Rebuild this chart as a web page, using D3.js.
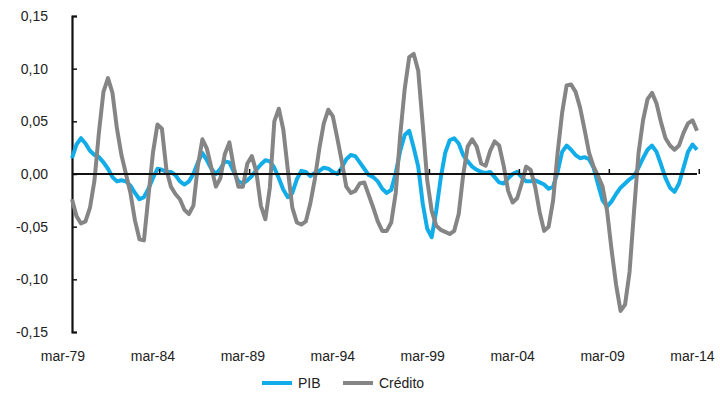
<!DOCTYPE html>
<html>
<head>
<meta charset="utf-8">
<script src="https://cdn.jsdelivr.net/npm/d3@7"></script>
<style>
	body { margin: 0; background: #fff; }
	text { font-family: "Liberation Sans", Arial, sans-serif; fill: #222; }
</style>
</head>
<body>
<div id="chart"></div>
<script>

//data (quarterly, sep-79 .. jun-14)
const pib = [
	0.015, 0.028, 0.034, 0.029, 0.022, 0.018, 0.016, 0.011, 0.005, -0.003,
	-0.007, -0.006, -0.007, -0.011, -0.018, -0.024, -0.022, -0.014, -0.004, 0.005,
	0.004, 0.002, 0.002, -0.001, -0.007, -0.010, -0.007, 0.000, 0.011, 0.020,
	0.013, 0.005, 0.000, 0.005, 0.012, 0.011, 0.002, -0.007, -0.009, -0.006,
	-0.002, 0.004, 0.009, 0.013, 0.012, 0.006, -0.004, -0.015, -0.022, -0.018,
	-0.005, 0.003, 0.002, -0.002, 0.001, 0.003, 0.006, 0.005, 0.002, 0.000,
	0.006, 0.014, 0.018, 0.017, 0.011, 0.005, -0.001, -0.003, -0.007, -0.014,
	-0.018, -0.015, 0.001, 0.022, 0.037, 0.041, 0.025, 0.007, -0.028, -0.052,
	-0.060, -0.035, -0.004, 0.020, 0.032, 0.034, 0.029, 0.018, 0.012, 0.007,
	0.004, 0.002, 0.001, 0.002, -0.003, -0.008, -0.009, -0.004, 0.000, 0.002,
	-0.003, -0.007, -0.007, -0.006, -0.008, -0.010, -0.014, -0.012, 0.002, 0.021,
	0.027, 0.023, 0.018, 0.015, 0.016, 0.014, 0.006, -0.010, -0.025, -0.031,
	-0.026, -0.019, -0.013, -0.009, -0.005, -0.002, 0.006, 0.015, 0.023, 0.027,
	0.021, 0.009, -0.004, -0.013, -0.017, -0.009, 0.006, 0.021, 0.028, 0.023
];

const credito = [
	-0.024, -0.040, -0.047, -0.045, -0.032, -0.006, 0.040, 0.078, 0.091, 0.077,
	0.043, 0.018, 0.000, -0.018, -0.044, -0.062, -0.063, -0.021, 0.020, 0.047,
	0.043, 0.004, -0.012, -0.019, -0.024, -0.034, -0.038, -0.030, 0.008, 0.033,
	0.024, 0.006, -0.012, -0.004, 0.019, 0.030, 0.006, -0.012, -0.012, 0.010,
	0.017, 0.002, -0.030, -0.043, -0.013, 0.050, 0.062, 0.042, 0.004, -0.032,
	-0.046, -0.048, -0.045, -0.028, -0.005, 0.024, 0.048, 0.061, 0.055, 0.034,
	0.012, -0.012, -0.018, -0.016, -0.009, -0.008, -0.020, -0.032, -0.045, -0.054,
	-0.054, -0.046, -0.018, 0.037, 0.081, 0.111, 0.114, 0.098, 0.047, -0.006,
	-0.035, -0.049, -0.053, -0.055, -0.057, -0.054, -0.038, -0.001, 0.026, 0.033,
	0.026, 0.010, 0.008, 0.022, 0.031, 0.027, 0.008, -0.016, -0.027, -0.023,
	-0.009, 0.007, 0.004, -0.012, -0.036, -0.054, -0.050, -0.025, 0.020, 0.058,
	0.084, 0.085, 0.078, 0.063, 0.042, 0.020, 0.007, -0.002, -0.012, -0.035,
	-0.072, -0.105, -0.130, -0.124, -0.093, -0.035, 0.020, 0.051, 0.071, 0.077,
	0.067, 0.049, 0.034, 0.027, 0.023, 0.027, 0.039, 0.048, 0.051, 0.041
];

const xLabels = ["mar-79", "mar-84", "mar-89", "mar-94", "mar-99", "mar-04", "mar-09", "mar-14"];
const yTicks = [-0.15, -0.10, -0.05, 0, 0.05, 0.10, 0.15];
const seriesNames = ["PIB", "Crédito"];
const seriesColors = ["#12ade8", "#858585"];


function graph(){

	//sizing
	let width = 720;
	let height = 398;

	let svg = d3.select("#chart")
		.append("svg")
		.attr("width", width)
		.attr("height", height);

	//number format with comma
	const locale = d3.formatLocale({
		decimal: ",",
		thousands: ".",
		grouping: [3],
		currency: ["", ""],
		minus: "-"
	});
	const fmt = locale.format(".2f");

	//scales
	let x = d3.scaleLinear()
		.domain([0, pib.length - 1])
		.range([72, 697]);

	let y = d3.scaleLinear()
		.domain([-0.15, 0.15])
		.range([332, 16]);

	//y axis
	let yAxis = svg.append("g")
		.attr("transform", "translate(72,0)")
		.call(d3.axisRight(y)
			.tickValues(yTicks)
			.tickSize(5)
			.tickFormat(""));
	yAxis.select(".domain").attr("stroke", "#111").attr("stroke-width", 2.2);
	yAxis.selectAll(".tick line").attr("stroke", "#111").attr("stroke-width", 1.5);

	svg.append("g")
		.selectAll("text")
		.data(yTicks)
		.join("text")
		.attr("x", 48)
		.attr("y", d => y(d))
		.attr("dy", "0.35em")
		.attr("text-anchor", "end")
		.attr("font-size", 14)
		.text(d => fmt(d));

	//x labels, every 20 quarters, mar-79 two quarters before first point
	svg.append("g")
		.selectAll("text")
		.data(xLabels)
		.join("text")
		.attr("x", (d, i) => x(-2 + i * 20))
		.attr("y", 356)
		.attr("dy", "0.35em")
		.attr("text-anchor", "middle")
		.attr("font-size", 14)
		.text(d => d);

	//lines
	const line = d3.line()
		.x((d, i) => x(i))
		.y(d => y(d));

	[pib, credito].forEach(function(s, k){
		svg.append("path")
			.datum(s)
			.attr("fill", "none")
			.attr("stroke", seriesColors[k])
			.attr("stroke-width", 4)
			.attr("stroke-linejoin", "round")
			.attr("d", line);
	});
	// gray drawn over blue -> redraw order matches reference (gray on top)

	//zero line + ticks
	svg.append("line")
		.attr("x1", 72)
		.attr("x2", x(pib.length - 1))
		.attr("y1", y(0))
		.attr("y2", y(0))
		.attr("stroke", "#111")
		.attr("stroke-width", 2.2);

	svg.append("g")
		.selectAll("line")
		.data(d3.range(19.5, pib.length, 20))
		.join("line")
		.attr("x1", d => x(d))
		.attr("x2", d => x(d))
		.attr("y1", y(0))
		.attr("y2", y(0) - 5)
		.attr("stroke", "#111")
		.attr("stroke-width", 1.5);

	//legend
	let legend = svg.append("g")
		.selectAll("g")
		.data(seriesNames)
		.join("g")
		.attr("transform", (d, i) => `translate(${i === 0 ? 262 : 343},383)`);

	legend.append("line")
		.attr("x1", 0)
		.attr("x2", 30)
		.attr("stroke", (d, i) => seriesColors[i])
		.attr("stroke-width", 4);

	legend.append("text")
		.attr("x", 36)
		.attr("dy", "0.35em")
		.attr("font-size", 14)
		.text(d => d);

}

graph();

</script>
</body>
</html>
